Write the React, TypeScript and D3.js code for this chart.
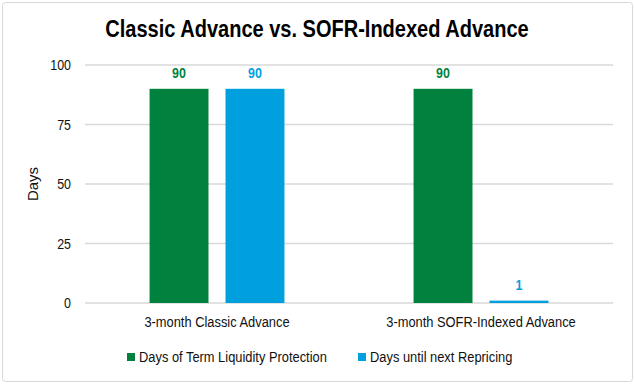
import { useRef, useEffect } from "react";
import * as d3 from "d3";

const categories = ["3-month Classic Advance", "3-month SOFR-Indexed Advance"];
const seriesNames = ["Days of Term Liquidity Protection", "Days until next Repricing"];
const liquidityDays = [90, 90];
const repricingDays = [90, 1];
const yTicks = [0, 25, 50, 75, 100];

const colors = ["#00823e", "#00a0df"];
const FONT = "'Liberation Sans', Arial, sans-serif";
const SQUEEZE = 0.83;

export default function App() {
  const svgRef = useRef<SVGSVGElement>(null);

  useEffect(() => {
    if (!svgRef.current) return;
    const svg = d3.select(svgRef.current);
    svg.selectAll("*").remove();

    const width = 635;
    const height = 384;
    const left = 85;
    const right = 613;
    const top = 65;
    const bottom = 303;

    // narrow text, like the original's condensed Arial
    const squeeze = (factor: number) => (sel: d3.Selection<SVGTextElement, any, any, any>) => {
      sel.each(function () {
        const len = this.getComputedTextLength();
        d3.select(this)
          .attr("textLength", len * factor)
          .attr("lengthAdjust", "spacingAndGlyphs");
      });
    };

    svg
      .append("rect")
      .attr("x", 2.5)
      .attr("y", 2.5)
      .attr("width", width - 5)
      .attr("height", height - 5)
      .attr("rx", 3)
      .attr("fill", "#fff")
      .attr("stroke", "#d9d9d9");

    const x0 = d3.scaleBand<string>().domain(categories).range([left, right]);
    const x1 = d3
      .scaleBand<string>()
      .domain(seriesNames)
      .range([0, x0.bandwidth()])
      .paddingInner(0.224)
      .paddingOuter(0.85);
    const y = d3.scaleLinear().domain([0, 100]).range([bottom, top]);

    // Title
    svg
      .append("text")
      .attr("x", 317)
      .attr("y", 37)
      .attr("text-anchor", "middle")
      .attr("font-family", FONT)
      .attr("font-weight", "bold")
      .attr("font-size", 23)
      .attr("fill", "#000")
      .text("Classic Advance vs. SOFR-Indexed Advance")
      .call(squeeze(0.87));

    // Gridlines
    svg
      .append("g")
      .selectAll("line")
      .data(yTicks)
      .join("line")
      .attr("x1", left)
      .attr("x2", right)
      .attr("y1", (d) => y(d))
      .attr("y2", (d) => y(d))
      .attr("stroke", "#d9d9d9")
      .attr("stroke-width", 1.3);

    // Y tick labels
    svg
      .append("g")
      .selectAll("text")
      .data(yTicks)
      .join("text")
      .attr("x", 71)
      .attr("y", (d) => y(d) + 5)
      .attr("text-anchor", "end")
      .attr("font-family", FONT)
      .attr("font-size", 15)
      .attr("fill", "#111")
      .text((d) => d)
      .call(squeeze(SQUEEZE));

    // Y axis title
    svg
      .append("text")
      .attr("transform", "translate(38,184) rotate(-90)")
      .attr("text-anchor", "middle")
      .attr("font-family", FONT)
      .attr("font-size", 15)
      .attr("fill", "#111")
      .text("Days");

    // Bars
    const seriesData = [liquidityDays, repricingDays];
    seriesData.forEach((values, si) => {
      const g = svg.append("g");
      g.selectAll("rect")
        .data(values)
        .join("rect")
        .attr("x", (_, i) => x0(categories[i])! + x1(seriesNames[si])!)
        .attr("y", (d) => y(d))
        .attr("width", x1.bandwidth())
        .attr("height", (d) => y(0) - y(d))
        .attr("fill", colors[si]);

      g.selectAll("text")
        .data(values)
        .join("text")
        .attr("x", (_, i) => x0(categories[i])! + x1(seriesNames[si])! + x1.bandwidth() / 2)
        .attr("y", (d) => y(d) - 11)
        .attr("text-anchor", "middle")
        .attr("font-family", FONT)
        .attr("font-weight", "bold")
        .attr("font-size", 15)
        .attr("fill", colors[si])
        .text((d) => d)
        .call(squeeze(SQUEEZE));
    });

    // Category labels
    svg
      .append("g")
      .selectAll("text")
      .data(categories)
      .join("text")
      .attr("x", (d) => x0(d)! + x0.bandwidth() / 2)
      .attr("y", 327)
      .attr("text-anchor", "middle")
      .attr("font-family", FONT)
      .attr("font-size", 15.5)
      .attr("fill", "#111")
      .text((d) => d)
      .call(squeeze(SQUEEZE));

    // Legend
    const legendX = [127, 358];
    seriesNames.forEach((name, i) => {
      svg
        .append("rect")
        .attr("x", legendX[i])
        .attr("y", 353)
        .attr("width", 8)
        .attr("height", 8)
        .attr("fill", colors[i]);
      svg
        .append("text")
        .attr("x", legendX[i] + 12)
        .attr("y", 362)
        .attr("font-family", FONT)
        .attr("font-size", 15.5)
        .attr("fill", "#111")
        .text(name)
        .call(squeeze(SQUEEZE));
    });
  }, []);

  return (
    <svg
      ref={svgRef}
      width={635}
      height={384}
      style={{ position: "absolute", left: 0, top: 0, display: "block" }}
    />
  );
}
